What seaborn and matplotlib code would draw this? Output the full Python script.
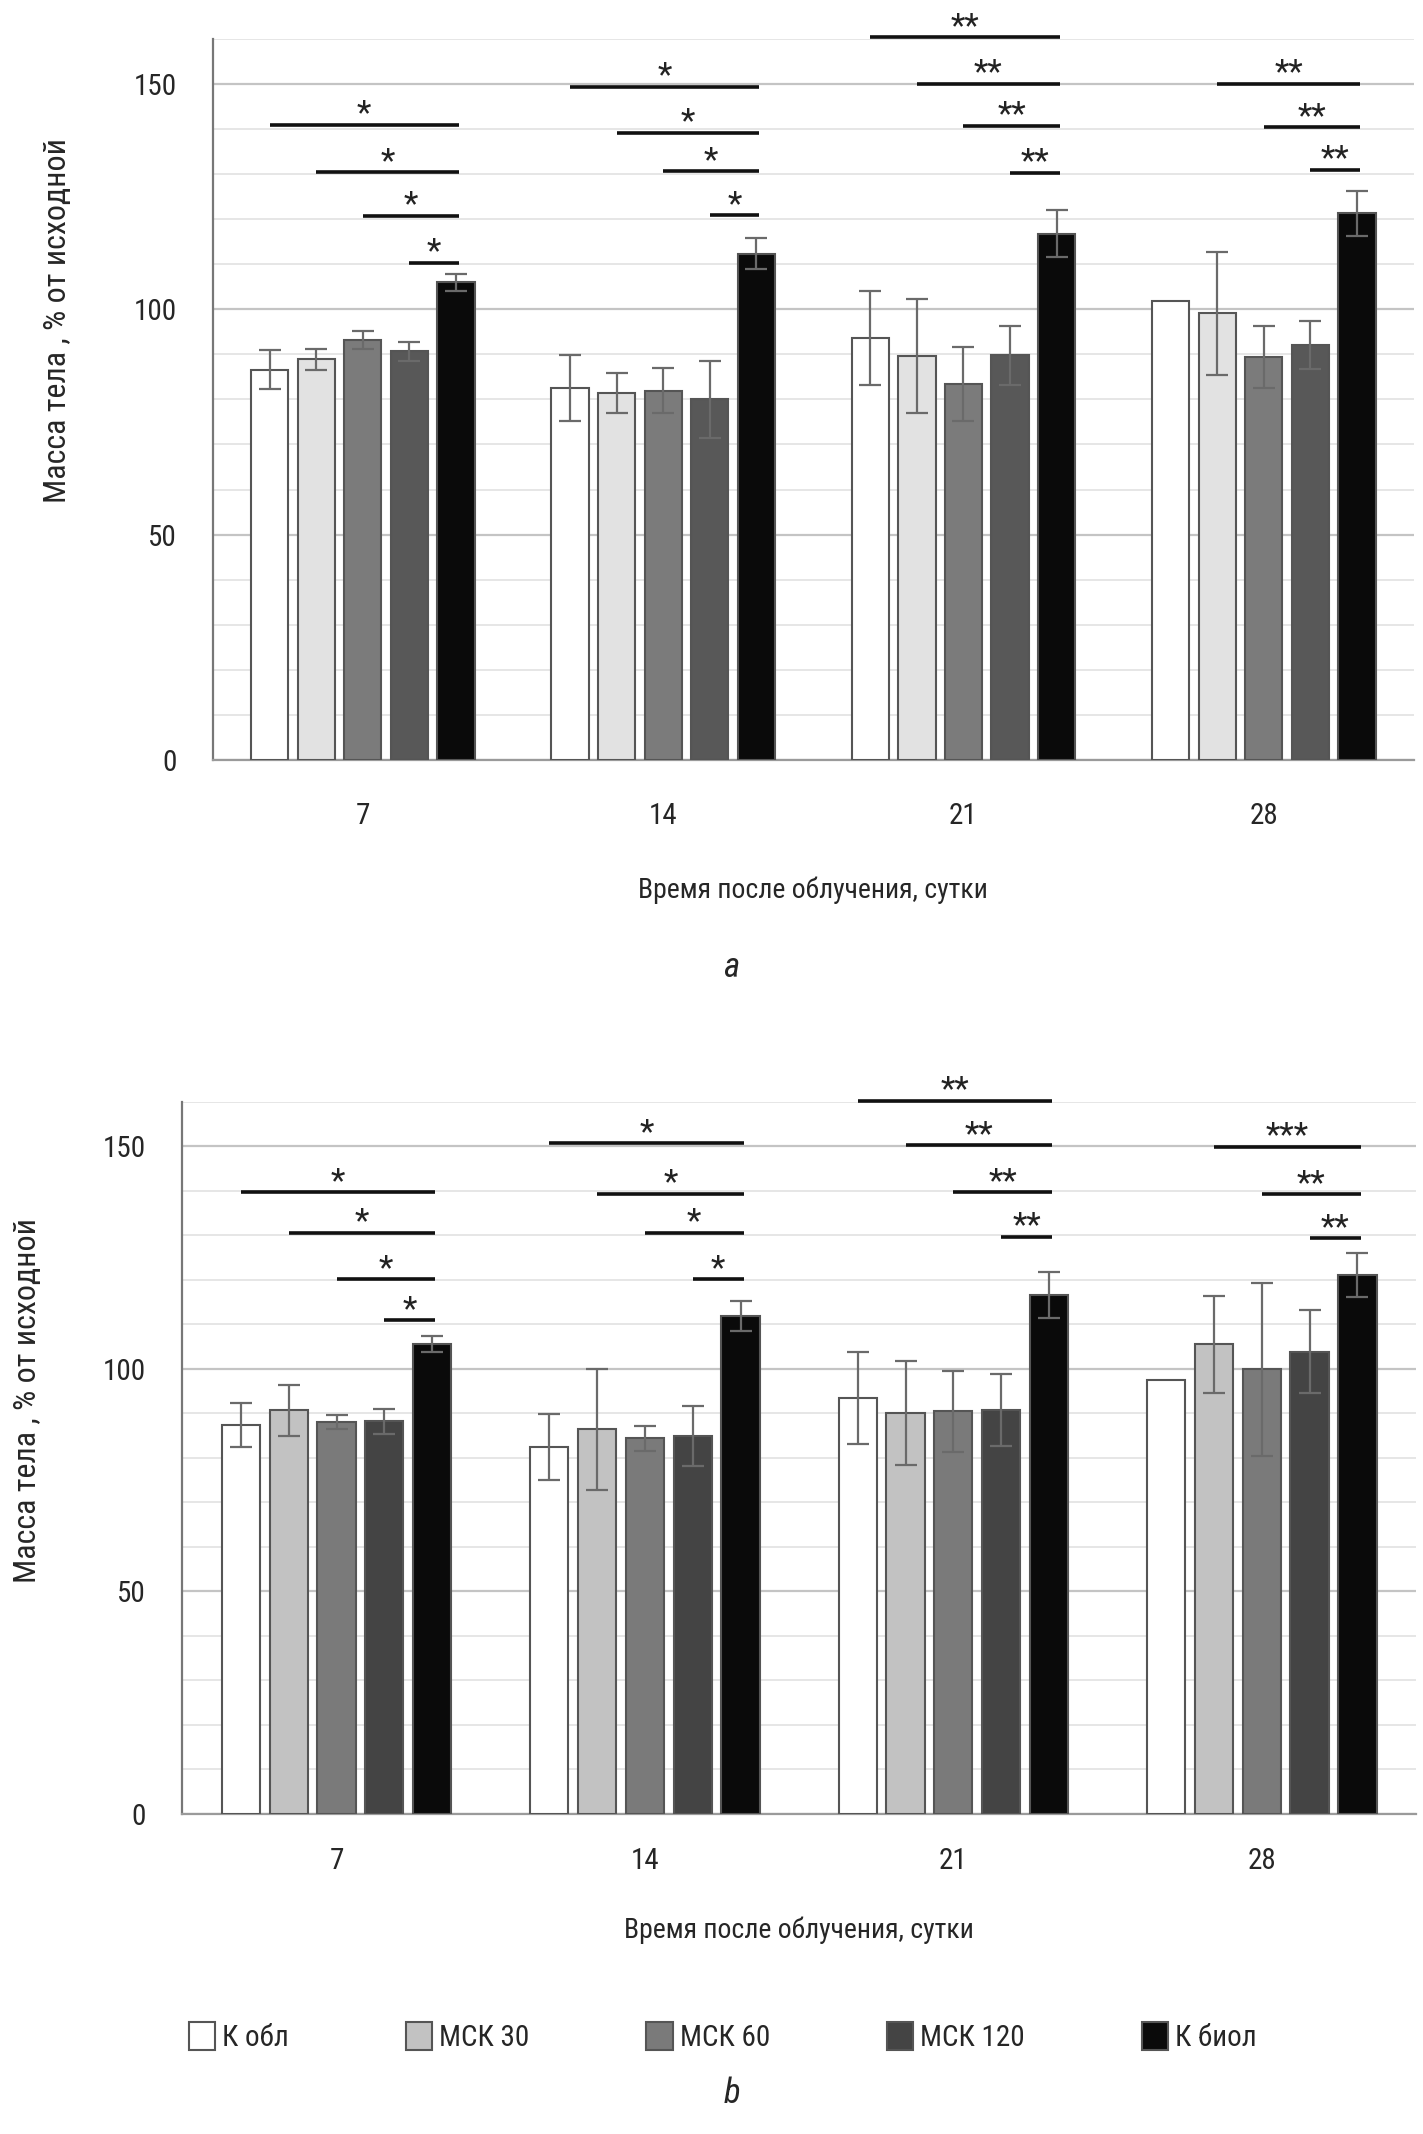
import numpy as np
import pandas as pd
import matplotlib
matplotlib.use('Agg')
import matplotlib.pyplot as plt
import seaborn as sns
from matplotlib.patches import Patch
from matplotlib.container import BarContainer
from matplotlib import font_manager as fm

nan = np.nan

# ---------------- data ----------------
days = ['7', '14', '21', '28']
groups = ['К обл', 'МСК 30', 'МСК 60', 'МСК 120', 'К биол']

# panel a: means
a_k_obl = [86.6, 82.5, 93.7, 101.9]
a_msk30 = [88.9, 81.4, 89.6, 99.1]
a_msk60 = [93.1, 81.9, 83.4, 89.4]
a_msk120 = [90.7, 80.0, 89.8, 92.0]
a_k_biol = [106.0, 112.3, 116.8, 121.3]
# panel a: errors
a_err_k_obl = [4.4, 7.4, 10.4, nan]
a_err_msk30 = [2.3, 4.5, 12.6, 13.6]
a_err_msk60 = [2.0, 5.0, 8.2, 6.8]
a_err_msk120 = [2.1, 8.5, 6.5, 5.3]
a_err_k_biol = [1.9, 3.4, 5.2, 5.0]

# panel b: means
b_k_obl = [87.4, 82.5, 93.5, 97.5]
b_msk30 = [90.7, 86.4, 90.2, 105.5]
b_msk60 = [88.1, 84.4, 90.5, 99.9]
b_msk120 = [88.2, 84.9, 90.8, 103.9]
b_k_biol = [105.7, 111.9, 116.6, 121.1]
# panel b: errors
b_err_k_obl = [5.0, 7.4, 10.4, nan]
b_err_msk30 = [5.7, 13.5, 11.7, 10.9]
b_err_msk60 = [1.6, 2.8, 9.1, 19.5]
b_err_msk120 = [2.8, 6.7, 8.1, 9.3]
b_err_k_biol = [1.8, 3.3, 5.2, 4.9]

# significance brackets (day index, compared group index vs К биол, level, label)
sig_a_day = [0, 0, 0, 0, 1, 1, 1, 1, 2, 2, 2, 2, 3, 3, 3]
sig_a_from = [0, 1, 2, 3, 0, 1, 2, 3, 0, 1, 2, 3, 1, 2, 3]
sig_a_level = [140.9, 130.4, 120.7, 110.3, 149.4, 139.2, 130.6, 120.9,
               160.4, 150.0, 140.7, 130.3, 150.0, 140.4, 131.0]
sig_a_label = ['*'] * 8 + ['**'] * 7

sig_b_day = [0, 0, 0, 0, 1, 1, 1, 1, 2, 2, 2, 2, 3, 3, 3]
sig_b_from = [0, 1, 2, 3, 0, 1, 2, 3, 0, 1, 2, 3, 1, 2, 3]
sig_b_level = [139.7, 130.6, 120.2, 111.0, 150.7, 139.4, 130.6, 120.2,
               160.3, 150.3, 139.7, 129.7, 149.9, 139.3, 129.4]
sig_b_label = ['*'] * 8 + ['**'] * 4 + ['***', '**', '**']

colors_a = ['#ffffff', '#e2e2e2', '#7b7b7b', '#585858', '#0a0a0a']
colors_b = ['#ffffff', '#c2c2c2', '#7a7a7a', '#444444', '#0a0a0a']

ylabel = 'Масса тела , % от исходной'
xlabel = 'Время после облучения, сутки'

# ---------------- fonts ----------------
sns.set_style('white')
names = {f.name for f in fm.fontManager.ttflist}
stretch = 'normal'
if 'Liberation Sans Narrow' in names:
    FAM = 'Liberation Sans Narrow'
elif 'Roboto Condensed' in names:
    FAM = 'Roboto Condensed'
elif 'DejaVu Sans Condensed' in names:
    FAM = 'DejaVu Sans Condensed'
else:
    FAM = 'DejaVu Sans'
    stretch = 'condensed'
plt.rcParams['font.family'] = [FAM, 'DejaVu Sans']
plt.rcParams['font.stretch'] = stretch

fig = plt.figure(figsize=(14.23, 21.34), dpi=100)
ax_a = fig.add_axes([0.1494, 0.6439, 0.8443, 0.3379])
ax_b = fig.add_axes([0.1281, 0.1500, 0.8670, 0.3336])


def draw(ax, vals, errs, colors, sig_day, sig_from, sig_level, sig_label,
         xpad, lpad, ylab_y):
    rows = []
    for g, v in zip(groups, vals):
        for d, val in zip(days, v):
            rows.append({'day': d, 'group': g, 'value': val})
    df = pd.DataFrame(rows)
    sns.barplot(data=df, x='day', y='value', hue='group', order=days,
                hue_order=groups, palette=colors, width=0.775, gap=0.2,
                edgecolor='#555555', linewidth=1.5, errorbar=None,
                legend=False, ax=ax, zorder=3)
    bar_conts = [c for c in ax.containers if isinstance(c, BarContainer)]
    centers = {}
    tops = {}
    for gi, cont in enumerate(bar_conts):
        for di, bar in enumerate(cont):
            centers[(di, gi)] = bar.get_x() + bar.get_width() / 2
            tops[(di, gi)] = bar.get_height()
    for (di, gi), cx in centers.items():
        e = errs[gi][di]
        if not np.isnan(e):
            ax.errorbar(cx, tops[(di, gi)], yerr=e, fmt='none',
                        ecolor='#6a6a6a', elinewidth=1.6, capsize=8,
                        capthick=1.6, zorder=4)
    for d, f, lev, lab in zip(sig_day, sig_from, sig_level, sig_label):
        x0 = centers[(d, f)]
        x1 = centers[(d, 4)] + 0.01
        ax.plot([x0, x1], [lev, lev], color='#111111', lw=2.6,
                solid_capstyle='butt', clip_on=False, zorder=5)
        ax.text((x0 + x1) / 2, lev + 0.3, lab, ha='center', va='baseline',
                fontsize=24, color='#222222', clip_on=False)

    ax.set_xlim(-0.5, 3.5)
    ax.set_ylim(0, 160)
    ax.set_yticks([0, 50, 100, 150])
    ax.set_yticks(np.arange(0, 161, 10), minor=True)
    ax.grid(False)
    ax.grid(which='minor', axis='y', color='#e4e4e4', lw=1.3, zorder=0)
    ax.grid(which='major', axis='y', color='#c4c4c4', lw=1.6, zorder=0)
    ax.set_axisbelow(True)
    for s in ['top', 'right']:
        ax.spines[s].set_visible(False)
    ax.spines['left'].set_color('#777777')
    ax.spines['left'].set_linewidth(1.6)
    ax.spines['bottom'].set_color('#9a9a9a')
    ax.spines['bottom'].set_linewidth(1.6)
    ax.tick_params(axis='y', which='both', length=0, labelsize=21, pad=26)
    ax.tick_params(axis='x', length=0, labelsize=21, pad=xpad)
    ax.set_xlabel(xlabel, fontsize=20, labelpad=lpad)
    ax.set_ylabel(ylabel, fontsize=23, labelpad=44, y=ylab_y)


draw(ax_a,
     [a_k_obl, a_msk30, a_msk60, a_msk120, a_k_biol],
     [a_err_k_obl, a_err_msk30, a_err_msk60, a_err_msk120, a_err_k_biol],
     colors_a, sig_a_day, sig_a_from, sig_a_level, sig_a_label, 30, 34, 0.61)
draw(ax_b,
     [b_k_obl, b_msk30, b_msk60, b_msk120, b_k_biol],
     [b_err_k_obl, b_err_msk30, b_err_msk60, b_err_msk120, b_err_k_biol],
     colors_b, sig_b_day, sig_b_from, sig_b_level, sig_b_label, 24, 30, 0.58)

fig.text(0.514, 1 - 967 / 2134, 'a', ha='center', va='center',
         fontsize=25, style='italic')
fig.text(0.514, 1 - 2093 / 2134, 'b', ha='center', va='center',
         fontsize=25, style='italic')

handles = [Patch(facecolor=c, edgecolor='#555555', linewidth=1.5)
           for c in colors_b]
fig.legend(handles, groups, loc='center', bbox_to_anchor=(0.508, 1 - 2037 / 2134),
           ncol=5, frameon=False, fontsize=21, handlelength=0.9,
           handleheight=1.1, handletextpad=0.25, columnspacing=4.0)

fig.savefig('out.png', dpi=100)
